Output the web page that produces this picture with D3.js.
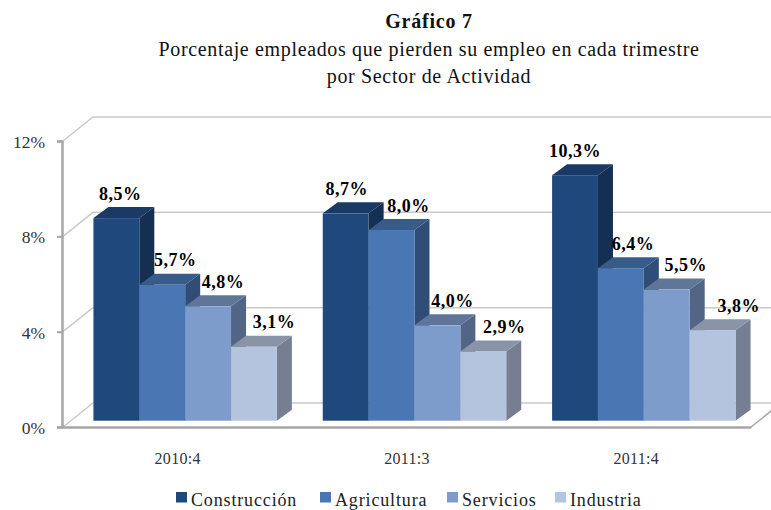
<!DOCTYPE html>
<html>
<head>
<meta charset="utf-8">
<script src="https://cdnjs.cloudflare.com/ajax/libs/d3/7.8.5/d3.min.js"></script>
<style>
  html, body { margin: 0; padding: 0; background: #fff; }
  svg { display: block; }
  text { font-family: "Liberation Serif", serif; }
</style>
</head>
<body>
<div id="wrapper"></div>
<script>
// values
const periods = ["2010:4", "2011:3", "2011:4"];
const seriesNames = ["Construcción", "Agricultura", "Servicios", "Industria"];
const construccion = [8.5, 8.7, 10.3];
const agricultura = [5.7, 8.0, 6.4];
const servicios = [4.8, 4.0, 5.5];
const industria = [3.1, 2.9, 3.8];
const yTicks = [0, 4, 8, 12];

const width = 771, height = 510;
const values = [construccion, agricultura, servicios, industria];

// front, top, side
const colors = [
  ["#1f497d", "#193a64", "#142f52"],
  ["#4a77b3", "#385c8a", "#2f4d76"],
  ["#7d9ccb", "#5f7699", "#526585"],
  ["#b4c3de", "#8994a8", "#767f91"]
];

const fmt = v => v.toFixed(1).replace(".", ",") + "%";

// frame: front plane of the 3d box, back wall is shifted by (wallX, wallY)
const wallX = 30, wallY = -24;
const barDepthX = 15, barDepthY = -11;
const y = d3.scaleLinear().domain([0, 12]).range([427, 141]);
const x0 = d3.scaleBand().domain(periods).range([63, 751]).paddingInner(0.2).paddingOuter(0.1);
const x1 = d3.scaleBand().domain(seriesNames).range([0, x0.bandwidth()]);

const svg = d3.select("#wrapper").append("svg")
  .attr("width", width)
  .attr("height", height)
  .attr("viewBox", [0, 0, width, height]);

// title
const title = svg.append("g").attr("text-anchor", "middle").attr("fill", "#111");
title.append("text").attr("x", 429).attr("y", 28)
  .attr("font-weight", "bold").attr("font-size", 20).attr("letter-spacing", 0.8).text("Gráfico 7");
title.append("text").attr("x", 429).attr("y", 56)
  .attr("font-size", 20).attr("letter-spacing", 0.65).text("Porcentaje empleados que pierden su empleo en cada trimestre");
title.append("text").attr("x", 429).attr("y", 83)
  .attr("font-size", 20).attr("letter-spacing", 0.65).text("por Sector de Actividad");

// back wall gridlines + left wall diagonals
const grid = svg.append("g").attr("fill", "none").attr("stroke", "#c9c9c9").attr("stroke-width", 1.5);
grid.selectAll("path")
  .data(yTicks)
  .join("path")
  .attr("d", d => `M63,${y(d)}L${63 + wallX},${y(d) + wallY}L${751 + wallX},${y(d) + wallY}`);

// floor edge on the right
svg.append("line")
  .attr("x1", 751).attr("y1", y(0))
  .attr("x2", 751 + wallX).attr("y2", y(0) + wallY)
  .attr("stroke", "#a6a6a6").attr("stroke-width", 1.5);

// bars sit a bit inside the floor
const baseShiftX = 7.5, baseShiftY = 6.3;
const groups = svg.selectAll("g.period")
  .data(periods)
  .join("g")
  .attr("class", "period")
  .attr("transform", d => `translate(${x0(d) + baseShiftX},0)`);

seriesNames.forEach((name, s) => {
  const bars = groups.append("g")
    .datum((p, i) => ({ value: values[s][i] }));
  const xl = x1(name), w = x1.bandwidth();
  const top = d => y(d.value) - baseShiftY;
  const base = y(0) - baseShiftY;
  bars.append("path").attr("fill", colors[s][2])
    .attr("d", d => `M${xl + w},${top(d)}l${barDepthX},${barDepthY}V${base + barDepthY}l${-barDepthX},${-barDepthY}Z`);
  bars.append("path").attr("fill", colors[s][1])
    .attr("d", d => `M${xl},${top(d)}l${barDepthX},${barDepthY}h${w}l${-barDepthX},${-barDepthY}Z`);
  bars.append("rect").attr("fill", colors[s][0])
    .attr("x", xl).attr("width", w)
    .attr("y", top)
    .attr("height", d => base - top(d));
});

// axes
const axisColor = "#a6a6a6";
const yAxis = svg.append("g")
  .attr("transform", "translate(62,0)")
  .call(d3.axisLeft(y).tickValues(yTicks).tickSize(5).tickPadding(12).tickFormat(d => d + "%"));
const xAxis = svg.append("g")
  .attr("transform", `translate(0,${y(0)})`)
  .call(d3.axisBottom(x0).tickSize(0).tickPadding(26));
[yAxis, xAxis].forEach(a => {
  a.select(".domain").attr("stroke", axisColor).attr("stroke-width", 2.5);
  a.selectAll(".tick line").attr("stroke", axisColor).attr("stroke-width", 2);
  a.selectAll("text").attr("fill", "#333").style("font-family", '"Liberation Serif", serif');
});
yAxis.selectAll("text").attr("font-size", 17.5).attr("transform", "translate(0,1)");
xAxis.selectAll("text").attr("font-size", 16).attr("letter-spacing", 0.3);

// data labels, shifted by hand off the bars like in the original
const labelNudge = [[4, 1, 0], [13, 17, 12], [15, 15, 19], [20, 21, 26]];
seriesNames.forEach((name, s) => {
  periods.forEach((p, i) => {
    const v = values[s][i];
    svg.append("text")
      .attr("x", x0(p) + baseShiftX + x1(name) + x1.bandwidth() / 2 + labelNudge[s][i])
      .attr("y", y(v) - baseShiftY + barDepthY - 7.5)
      .attr("text-anchor", "middle")
      .attr("font-weight", "bold")
      .attr("font-size", 18)
      .attr("letter-spacing", 0.5)
      .attr("fill", "#000")
      .text(fmt(v));
  });
});

// legend
const legendX = [176, 320, 447, 555];
const legend = svg.selectAll("g.legend")
  .data(seriesNames)
  .join("g")
  .attr("class", "legend")
  .attr("transform", (d, i) => `translate(${legendX[i]},492)`);
legend.append("rect")
  .attr("width", 11).attr("height", 10.5)
  .attr("fill", (d, i) => colors[i][0]);
legend.append("text")
  .attr("x", 15).attr("y", 13.5)
  .attr("font-size", 18)
  .attr("letter-spacing", 0.85)
  .attr("fill", "#222")
  .text(d => d);
</script>
</body>
</html>
